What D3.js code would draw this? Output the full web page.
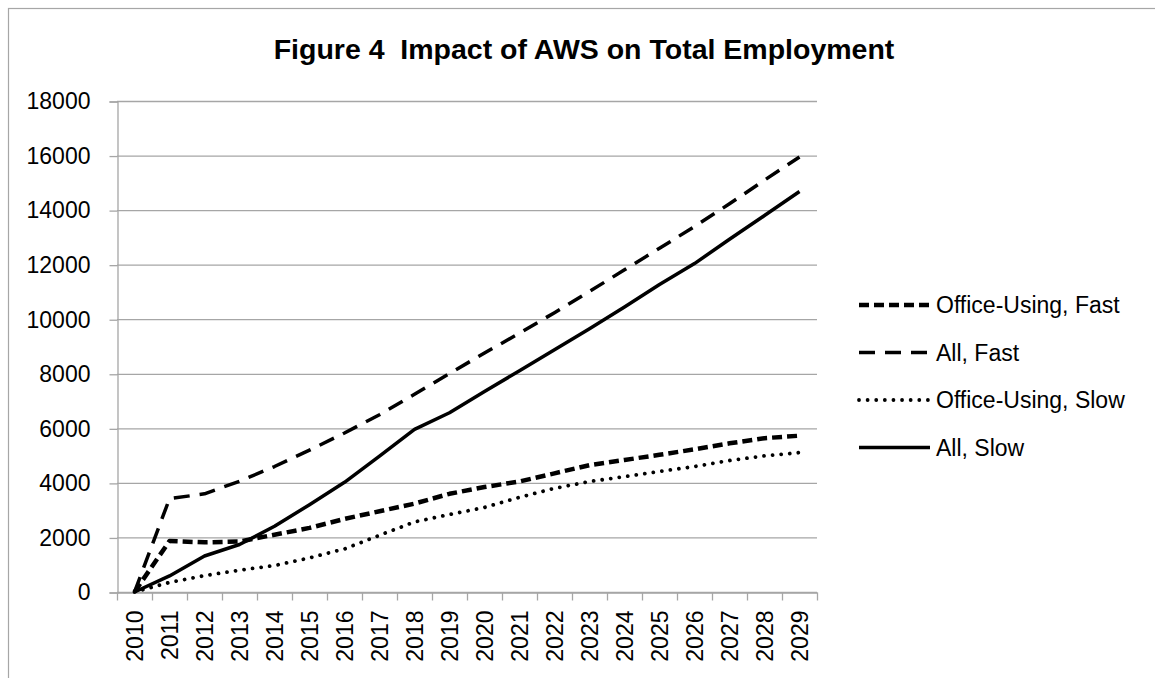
<!DOCTYPE html>
<html>
<head>
<meta charset="utf-8">
<script src="https://cdn.jsdelivr.net/npm/d3@7"></script>
<style>
  body { margin: 0; background: #fff; }
  svg { font-family: "Liberation Sans", Arial, sans-serif; }
</style>
</head>
<body>
<div class="chart"></div>
<script>
// data
var years = ["2010","2011","2012","2013","2014","2015","2016","2017","2018","2019",
             "2020","2021","2022","2023","2024","2025","2026","2027","2028","2029"];
var officeFast = [0, 1870, 1820, 1850, 2100, 2350, 2680, 2960, 3240, 3600,
                  3850, 4050, 4350, 4650, 4840, 5030, 5230, 5450, 5640, 5730];
var allFast = [0, 3420, 3600, 4060, 4600, 5200, 5830, 6500, 7250, 8010,
               8760, 9490, 10240, 11020, 11810, 12600, 13400, 14230, 15100, 15950];
var officeSlow = [0, 350, 600, 800, 970, 1250, 1580, 2080, 2570, 2840,
                  3100, 3470, 3800, 4050, 4230, 4420, 4600, 4820, 4990, 5110];
var allSlow = [0, 590, 1320, 1740, 2410, 3200, 4020, 4980, 5960, 6570,
               7350, 8110, 8880, 9650, 10450, 11270, 12040, 12930, 13800, 14680];
var yTicks = [0, 2000, 4000, 6000, 8000, 10000, 12000, 14000, 16000, 18000];
var seriesNames = ["Office-Using, Fast", "All, Fast", "Office-Using, Slow", "All, Slow"];
var titleText = "Figure 4  Impact of AWS on Total Employment";

var series = [
  {name: seriesNames[0], values: officeFast, dash: "10,5", width: 4.5, cap: "butt"},
  {name: seriesNames[1], values: allFast, dash: "16,10", width: 3.5, cap: "butt"},
  {name: seriesNames[2], values: officeSlow, dash: "0.01,8.6", width: 3.8, cap: "round"},
  {name: seriesNames[3], values: allSlow, dash: null, width: 3.5, cap: "butt"}
];

var width = 1155, height = 678;
var plot = {left: 117, right: 817, top: 101, bottom: 592};
var grey = "#a6a6a6";

var svg = d3.select(".chart")
  .append("svg")
    .attr("width", width)
    .attr("height", height);

// chart frame (only top and left edges fall inside the picture)
svg.append("rect")
  .attr("x", 8.5)
  .attr("y", 8.5)
  .attr("width", 1300)
  .attr("height", 900)
  .attr("fill", "none")
  .attr("stroke", grey)
  .attr("stroke-width", 1.2);

svg.append("text")
  .attr("x", 584)
  .attr("y", 59)
  .attr("text-anchor", "middle")
  .style("font-size", "28.5px")
  .style("font-weight", "bold")
  .style("white-space", "pre")
  .attr("fill", "#000")
  .text(titleText);

var x = d3.scaleBand()
  .domain(years)
  .range([plot.left, plot.right])
  .padding(0);

var y = d3.scaleLinear()
  .domain([0, 18000])
  .range([plot.bottom, plot.top]);

// gridlines
svg.append("g")
  .selectAll("line")
  .data(yTicks)
  .join("line")
    .attr("x1", plot.left)
    .attr("x2", plot.right)
    .attr("y1", function(d) { return y(d) + 0.5; })
    .attr("y2", function(d) { return y(d) + 0.5; })
    .attr("stroke", grey)
    .attr("stroke-width", 1.3);

// Y axis
var yAxis = svg.append("g")
  .attr("transform", "translate(" + (plot.left + 0.5) + ",0.5)")
  .call(d3.axisLeft(y).tickValues(yTicks).tickSize(8).tickPadding(19).tickFormat(d3.format("d")));
yAxis.select(".domain").attr("stroke", grey).attr("stroke-width", 1.3);
yAxis.selectAll(".tick line").attr("stroke", grey).attr("stroke-width", 1.3);
yAxis.selectAll("text").style("font-size", "23px").attr("fill", "#000");

// X axis: labels at category centres, ticks on category edges
var xAxis = svg.append("g")
  .attr("transform", "translate(0," + (plot.bottom + 0.5) + ")")
  .call(d3.axisBottom(x).tickSize(0).tickSizeOuter(0));
xAxis.select(".domain").attr("stroke", grey).attr("stroke-width", 1.3);
xAxis.selectAll("text")
  .style("font-size", "23px")
  .attr("fill", "#000")
  .attr("transform", "rotate(-90)")
  .attr("x", -18)
  .attr("y", 0)
  .attr("dy", "0.36em")
  .style("text-anchor", "end");

var edges = years.map(function(d) { return x(d); }).concat([plot.right]);
xAxis.selectAll(".edge")
  .data(edges)
  .join("line")
    .attr("class", "edge")
    .attr("x1", function(d) { return d + 0.5; })
    .attr("x2", function(d) { return d + 0.5; })
    .attr("y1", 0)
    .attr("y2", 8)
    .attr("stroke", grey)
    .attr("stroke-width", 1.3);

// lines
var line = d3.line()
  .x(function(d, i) { return x(years[i]) + x.bandwidth() / 2; })
  .y(function(d) { return y(d); });

svg.append("g")
  .selectAll("path")
  .data(series)
  .join("path")
    .attr("fill", "none")
    .attr("stroke", "#000")
    .attr("stroke-width", function(d) { return d.width; })
    .attr("stroke-linecap", function(d) { return d.cap; })
    .attr("stroke-linejoin", "round")
    .attr("stroke-dasharray", function(d) { return d.dash; })
    .attr("d", function(d) { return line(d.values); });

// legend
var legend = svg.append("g")
  .selectAll("g")
  .data(series)
  .join("g")
    .attr("transform", function(d, i) { return "translate(859," + (305 + i * 47.5) + ")"; });

legend.append("line")
  .attr("x1", 0)
  .attr("x2", 71)
  .attr("stroke", "#000")
  .attr("stroke-width", function(d) { return d.width; })
  .attr("stroke-linecap", function(d) { return d.cap; })
  .attr("stroke-dasharray", function(d) { return d.dash; });

legend.append("text")
  .attr("x", 77)
  .attr("dy", "0.36em")
  .style("font-size", "23px")
  .attr("fill", "#000")
  .text(function(d) { return d.name; });
</script>
</body>
</html>
